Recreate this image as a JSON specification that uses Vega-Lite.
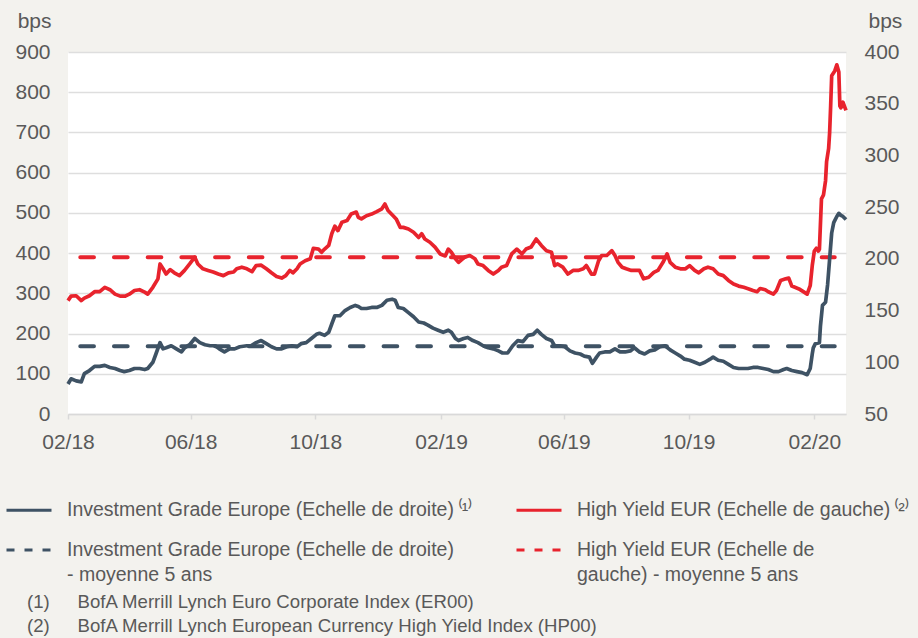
{
  "$schema": "https://vega.github.io/schema/vega-lite/v6.json",
  "width": 778,
  "height": 362,
  "autosize": "none",
  "padding": {"left": 68, "top": 52, "right": 72, "bottom": 224},
  "background": "#f3f2ee",
  "config": {
    "font": "Liberation Sans",
    "view": {"fill": "white", "stroke": null}
  },
  "title": {
    "text": ["(1)\u2003\u2002BofA Merrill Lynch Euro Corporate Index (ER00)", "(2)\u2003\u2002BofA Merrill Lynch European Currency High Yield Index (HP00)"],
    "orient": "bottom",
    "anchor": "start",
    "frame": "group",
    "dx": -41,
    "offset": 8,
    "font": "Liberation Sans",
    "fontSize": 18.6,
    "fontWeight": "normal",
    "color": "#595959",
    "lineHeight": 24
  },
  "datasets": {
    "hy": [
      {"date": "2018-02-01", "bps": 282}, {"date": "2018-02-04", "bps": 293}, {"date": "2018-02-09", "bps": 294}, {"date": "2018-02-14", "bps": 282},
      {"date": "2018-02-17", "bps": 288}, {"date": "2018-02-22", "bps": 294}, {"date": "2018-02-27", "bps": 304}, {"date": "2018-03-04", "bps": 304},
      {"date": "2018-03-09", "bps": 315}, {"date": "2018-03-14", "bps": 309}, {"date": "2018-03-19", "bps": 298}, {"date": "2018-03-24", "bps": 293},
      {"date": "2018-03-29", "bps": 293}, {"date": "2018-04-02", "bps": 298}, {"date": "2018-04-07", "bps": 307}, {"date": "2018-04-12", "bps": 309},
      {"date": "2018-04-17", "bps": 303}, {"date": "2018-04-20", "bps": 298}, {"date": "2018-04-25", "bps": 315}, {"date": "2018-04-30", "bps": 336},
      {"date": "2018-05-02", "bps": 373}, {"date": "2018-05-05", "bps": 361}, {"date": "2018-05-08", "bps": 348}, {"date": "2018-05-12", "bps": 359},
      {"date": "2018-05-16", "bps": 351}, {"date": "2018-05-21", "bps": 344}, {"date": "2018-05-26", "bps": 357}, {"date": "2018-05-31", "bps": 373},
      {"date": "2018-06-05", "bps": 390}, {"date": "2018-06-08", "bps": 373}, {"date": "2018-06-13", "bps": 361}, {"date": "2018-06-18", "bps": 357},
      {"date": "2018-06-23", "bps": 353}, {"date": "2018-06-28", "bps": 348}, {"date": "2018-07-03", "bps": 344}, {"date": "2018-07-08", "bps": 351},
      {"date": "2018-07-13", "bps": 353}, {"date": "2018-07-16", "bps": 361}, {"date": "2018-07-21", "bps": 365}, {"date": "2018-07-26", "bps": 361},
      {"date": "2018-07-31", "bps": 354}, {"date": "2018-08-04", "bps": 369}, {"date": "2018-08-09", "bps": 370}, {"date": "2018-08-14", "bps": 361},
      {"date": "2018-08-19", "bps": 351}, {"date": "2018-08-24", "bps": 342}, {"date": "2018-08-29", "bps": 338}, {"date": "2018-09-02", "bps": 344},
      {"date": "2018-09-06", "bps": 357}, {"date": "2018-09-09", "bps": 351}, {"date": "2018-09-13", "bps": 361}, {"date": "2018-09-16", "bps": 373},
      {"date": "2018-09-21", "bps": 381}, {"date": "2018-09-26", "bps": 386}, {"date": "2018-09-29", "bps": 412}, {"date": "2018-10-04", "bps": 410},
      {"date": "2018-10-07", "bps": 402}, {"date": "2018-10-10", "bps": 410}, {"date": "2018-10-14", "bps": 419}, {"date": "2018-10-17", "bps": 448},
      {"date": "2018-10-20", "bps": 467}, {"date": "2018-10-23", "bps": 456}, {"date": "2018-10-27", "bps": 477}, {"date": "2018-11-01", "bps": 481},
      {"date": "2018-11-05", "bps": 497}, {"date": "2018-11-10", "bps": 502}, {"date": "2018-11-12", "bps": 489}, {"date": "2018-11-15", "bps": 485},
      {"date": "2018-11-20", "bps": 493}, {"date": "2018-11-25", "bps": 497}, {"date": "2018-11-30", "bps": 503}, {"date": "2018-12-05", "bps": 510},
      {"date": "2018-12-08", "bps": 522}, {"date": "2018-12-11", "bps": 506}, {"date": "2018-12-16", "bps": 493}, {"date": "2018-12-19", "bps": 485},
      {"date": "2018-12-23", "bps": 464}, {"date": "2018-12-26", "bps": 464}, {"date": "2018-12-31", "bps": 460}, {"date": "2019-01-05", "bps": 452},
      {"date": "2019-01-10", "bps": 439}, {"date": "2019-01-13", "bps": 448}, {"date": "2019-01-16", "bps": 435}, {"date": "2019-01-21", "bps": 427},
      {"date": "2019-01-26", "bps": 415}, {"date": "2019-01-31", "bps": 398}, {"date": "2019-02-05", "bps": 393}, {"date": "2019-02-08", "bps": 410},
      {"date": "2019-02-11", "bps": 402}, {"date": "2019-02-15", "bps": 386}, {"date": "2019-02-18", "bps": 377}, {"date": "2019-02-24", "bps": 390},
      {"date": "2019-03-01", "bps": 394}, {"date": "2019-03-06", "bps": 386}, {"date": "2019-03-09", "bps": 373}, {"date": "2019-03-14", "bps": 369},
      {"date": "2019-03-19", "bps": 357}, {"date": "2019-03-24", "bps": 348}, {"date": "2019-03-29", "bps": 357}, {"date": "2019-04-01", "bps": 365},
      {"date": "2019-04-06", "bps": 369}, {"date": "2019-04-11", "bps": 398}, {"date": "2019-04-16", "bps": 410}, {"date": "2019-04-21", "bps": 398},
      {"date": "2019-04-25", "bps": 410}, {"date": "2019-04-30", "bps": 415}, {"date": "2019-05-05", "bps": 435}, {"date": "2019-05-10", "bps": 419},
      {"date": "2019-05-15", "bps": 406}, {"date": "2019-05-20", "bps": 402}, {"date": "2019-05-23", "bps": 369}, {"date": "2019-05-26", "bps": 373},
      {"date": "2019-05-31", "bps": 365}, {"date": "2019-06-05", "bps": 348}, {"date": "2019-06-10", "bps": 357}, {"date": "2019-06-15", "bps": 357},
      {"date": "2019-06-20", "bps": 361}, {"date": "2019-06-23", "bps": 369}, {"date": "2019-06-28", "bps": 348}, {"date": "2019-07-01", "bps": 348},
      {"date": "2019-07-05", "bps": 381}, {"date": "2019-07-08", "bps": 394}, {"date": "2019-07-13", "bps": 394}, {"date": "2019-07-18", "bps": 406},
      {"date": "2019-07-21", "bps": 394}, {"date": "2019-07-24", "bps": 377}, {"date": "2019-07-28", "bps": 365}, {"date": "2019-08-01", "bps": 361},
      {"date": "2019-08-06", "bps": 357}, {"date": "2019-08-11", "bps": 357}, {"date": "2019-08-14", "bps": 357}, {"date": "2019-08-18", "bps": 336},
      {"date": "2019-08-23", "bps": 340}, {"date": "2019-08-28", "bps": 352}, {"date": "2019-09-01", "bps": 357}, {"date": "2019-09-06", "bps": 377},
      {"date": "2019-09-10", "bps": 398}, {"date": "2019-09-13", "bps": 377}, {"date": "2019-09-18", "bps": 365}, {"date": "2019-09-23", "bps": 361},
      {"date": "2019-09-28", "bps": 361}, {"date": "2019-10-02", "bps": 369}, {"date": "2019-10-07", "bps": 357}, {"date": "2019-10-11", "bps": 351},
      {"date": "2019-10-16", "bps": 361}, {"date": "2019-10-20", "bps": 365}, {"date": "2019-10-25", "bps": 361}, {"date": "2019-10-30", "bps": 348},
      {"date": "2019-11-04", "bps": 344}, {"date": "2019-11-09", "bps": 332}, {"date": "2019-11-14", "bps": 323}, {"date": "2019-11-19", "bps": 318},
      {"date": "2019-11-24", "bps": 315}, {"date": "2019-11-29", "bps": 311}, {"date": "2019-12-03", "bps": 307}, {"date": "2019-12-07", "bps": 304},
      {"date": "2019-12-10", "bps": 312}, {"date": "2019-12-15", "bps": 309}, {"date": "2019-12-18", "bps": 304}, {"date": "2019-12-23", "bps": 298},
      {"date": "2019-12-26", "bps": 307}, {"date": "2019-12-30", "bps": 332}, {"date": "2020-01-04", "bps": 336}, {"date": "2020-01-07", "bps": 338},
      {"date": "2020-01-10", "bps": 318}, {"date": "2020-01-13", "bps": 315}, {"date": "2020-01-17", "bps": 311}, {"date": "2020-01-22", "bps": 303},
      {"date": "2020-01-25", "bps": 298}, {"date": "2020-01-28", "bps": 319}, {"date": "2020-01-30", "bps": 369}, {"date": "2020-02-01", "bps": 405},
      {"date": "2020-02-03", "bps": 412}, {"date": "2020-02-05", "bps": 405}, {"date": "2020-02-06", "bps": 410}, {"date": "2020-02-08", "bps": 535},
      {"date": "2020-02-10", "bps": 545}, {"date": "2020-02-12", "bps": 580}, {"date": "2020-02-13", "bps": 627}, {"date": "2020-02-15", "bps": 660},
      {"date": "2020-02-16", "bps": 700}, {"date": "2020-02-17", "bps": 766}, {"date": "2020-02-18", "bps": 841}, {"date": "2020-02-21", "bps": 853},
      {"date": "2020-02-23", "bps": 868}, {"date": "2020-02-25", "bps": 850}, {"date": "2020-02-26", "bps": 766}, {"date": "2020-02-27", "bps": 761},
      {"date": "2020-02-29", "bps": 775}, {"date": "2020-03-03", "bps": 755}
    ],
    "ig": [
      {"date": "2018-02-01", "bps": 79}, {"date": "2018-02-04", "bps": 84}, {"date": "2018-02-09", "bps": 82}, {"date": "2018-02-14", "bps": 81},
      {"date": "2018-02-17", "bps": 89}, {"date": "2018-02-22", "bps": 92}, {"date": "2018-02-27", "bps": 96}, {"date": "2018-03-04", "bps": 96},
      {"date": "2018-03-09", "bps": 97}, {"date": "2018-03-14", "bps": 95}, {"date": "2018-03-19", "bps": 94}, {"date": "2018-03-24", "bps": 92},
      {"date": "2018-03-28", "bps": 91}, {"date": "2018-04-02", "bps": 92}, {"date": "2018-04-07", "bps": 94}, {"date": "2018-04-12", "bps": 94},
      {"date": "2018-04-17", "bps": 93}, {"date": "2018-04-20", "bps": 94}, {"date": "2018-04-25", "bps": 100}, {"date": "2018-04-28", "bps": 108},
      {"date": "2018-05-02", "bps": 119}, {"date": "2018-05-05", "bps": 113}, {"date": "2018-05-08", "bps": 114}, {"date": "2018-05-13", "bps": 116},
      {"date": "2018-05-18", "bps": 113}, {"date": "2018-05-23", "bps": 110}, {"date": "2018-05-26", "bps": 114}, {"date": "2018-05-31", "bps": 117},
      {"date": "2018-06-05", "bps": 123}, {"date": "2018-06-10", "bps": 119}, {"date": "2018-06-15", "bps": 117}, {"date": "2018-06-20", "bps": 116},
      {"date": "2018-06-25", "bps": 116}, {"date": "2018-06-29", "bps": 113}, {"date": "2018-07-04", "bps": 110}, {"date": "2018-07-09", "bps": 113},
      {"date": "2018-07-14", "bps": 113}, {"date": "2018-07-19", "bps": 115}, {"date": "2018-07-26", "bps": 116}, {"date": "2018-07-30", "bps": 116},
      {"date": "2018-08-04", "bps": 119}, {"date": "2018-08-09", "bps": 121}, {"date": "2018-08-14", "bps": 118}, {"date": "2018-08-19", "bps": 115},
      {"date": "2018-08-24", "bps": 113}, {"date": "2018-08-29", "bps": 113}, {"date": "2018-09-03", "bps": 115}, {"date": "2018-09-08", "bps": 116},
      {"date": "2018-09-13", "bps": 115}, {"date": "2018-09-17", "bps": 118}, {"date": "2018-09-22", "bps": 119}, {"date": "2018-09-27", "bps": 123},
      {"date": "2018-10-02", "bps": 127}, {"date": "2018-10-05", "bps": 128}, {"date": "2018-10-10", "bps": 126}, {"date": "2018-10-14", "bps": 129},
      {"date": "2018-10-17", "bps": 137}, {"date": "2018-10-20", "bps": 145}, {"date": "2018-10-25", "bps": 145}, {"date": "2018-10-30", "bps": 150},
      {"date": "2018-11-04", "bps": 153}, {"date": "2018-11-09", "bps": 155}, {"date": "2018-11-12", "bps": 154}, {"date": "2018-11-15", "bps": 152},
      {"date": "2018-11-20", "bps": 152}, {"date": "2018-11-25", "bps": 153}, {"date": "2018-11-30", "bps": 153}, {"date": "2018-12-05", "bps": 155},
      {"date": "2018-12-10", "bps": 160}, {"date": "2018-12-15", "bps": 161}, {"date": "2018-12-18", "bps": 160}, {"date": "2018-12-21", "bps": 153},
      {"date": "2018-12-26", "bps": 152}, {"date": "2018-12-31", "bps": 148}, {"date": "2019-01-05", "bps": 144}, {"date": "2019-01-10", "bps": 139},
      {"date": "2019-01-15", "bps": 138}, {"date": "2019-01-19", "bps": 136}, {"date": "2019-01-24", "bps": 133}, {"date": "2019-01-29", "bps": 131},
      {"date": "2019-02-03", "bps": 129}, {"date": "2019-02-08", "bps": 131}, {"date": "2019-02-11", "bps": 129}, {"date": "2019-02-15", "bps": 123},
      {"date": "2019-02-18", "bps": 121}, {"date": "2019-02-23", "bps": 123}, {"date": "2019-02-27", "bps": 124}, {"date": "2019-03-04", "bps": 121},
      {"date": "2019-03-09", "bps": 119}, {"date": "2019-03-14", "bps": 116}, {"date": "2019-03-19", "bps": 114}, {"date": "2019-03-24", "bps": 113},
      {"date": "2019-03-29", "bps": 111}, {"date": "2019-04-02", "bps": 109}, {"date": "2019-04-07", "bps": 109}, {"date": "2019-04-12", "bps": 116},
      {"date": "2019-04-17", "bps": 121}, {"date": "2019-04-22", "bps": 120}, {"date": "2019-04-27", "bps": 126}, {"date": "2019-05-02", "bps": 127},
      {"date": "2019-05-06", "bps": 131}, {"date": "2019-05-10", "bps": 127}, {"date": "2019-05-15", "bps": 123}, {"date": "2019-05-20", "bps": 121},
      {"date": "2019-05-23", "bps": 116}, {"date": "2019-05-28", "bps": 116}, {"date": "2019-06-02", "bps": 115}, {"date": "2019-06-07", "bps": 111},
      {"date": "2019-06-12", "bps": 109}, {"date": "2019-06-17", "bps": 108}, {"date": "2019-06-21", "bps": 106}, {"date": "2019-06-26", "bps": 105},
      {"date": "2019-06-29", "bps": 99}, {"date": "2019-07-03", "bps": 105}, {"date": "2019-07-06", "bps": 109}, {"date": "2019-07-11", "bps": 110},
      {"date": "2019-07-16", "bps": 110}, {"date": "2019-07-21", "bps": 113}, {"date": "2019-07-26", "bps": 110}, {"date": "2019-07-31", "bps": 110},
      {"date": "2019-08-05", "bps": 111}, {"date": "2019-08-09", "bps": 114}, {"date": "2019-08-14", "bps": 110}, {"date": "2019-08-19", "bps": 108},
      {"date": "2019-08-24", "bps": 111}, {"date": "2019-08-29", "bps": 112}, {"date": "2019-09-03", "bps": 115}, {"date": "2019-09-08", "bps": 116},
      {"date": "2019-09-13", "bps": 112}, {"date": "2019-09-18", "bps": 109}, {"date": "2019-09-23", "bps": 106}, {"date": "2019-09-27", "bps": 103},
      {"date": "2019-10-02", "bps": 102}, {"date": "2019-10-07", "bps": 100}, {"date": "2019-10-12", "bps": 98}, {"date": "2019-10-17", "bps": 100},
      {"date": "2019-10-22", "bps": 103}, {"date": "2019-10-25", "bps": 105}, {"date": "2019-10-30", "bps": 102}, {"date": "2019-11-04", "bps": 101},
      {"date": "2019-11-09", "bps": 98}, {"date": "2019-11-14", "bps": 95}, {"date": "2019-11-19", "bps": 94}, {"date": "2019-11-24", "bps": 94},
      {"date": "2019-11-28", "bps": 94}, {"date": "2019-12-03", "bps": 95}, {"date": "2019-12-08", "bps": 95}, {"date": "2019-12-13", "bps": 94},
      {"date": "2019-12-18", "bps": 93}, {"date": "2019-12-23", "bps": 91}, {"date": "2019-12-28", "bps": 91}, {"date": "2020-01-02", "bps": 93},
      {"date": "2020-01-05", "bps": 94}, {"date": "2020-01-10", "bps": 92}, {"date": "2020-01-15", "bps": 91}, {"date": "2020-01-20", "bps": 90},
      {"date": "2020-01-25", "bps": 88}, {"date": "2020-01-28", "bps": 94}, {"date": "2020-01-30", "bps": 108}, {"date": "2020-01-31", "bps": 114},
      {"date": "2020-02-02", "bps": 118}, {"date": "2020-02-06", "bps": 119}, {"date": "2020-02-07", "bps": 135}, {"date": "2020-02-09", "bps": 155},
      {"date": "2020-02-12", "bps": 158}, {"date": "2020-02-14", "bps": 175}, {"date": "2020-02-16", "bps": 200}, {"date": "2020-02-18", "bps": 225},
      {"date": "2020-02-20", "bps": 235}, {"date": "2020-02-23", "bps": 241}, {"date": "2020-02-25", "bps": 244}, {"date": "2020-02-27", "bps": 242},
      {"date": "2020-02-29", "bps": 241}, {"date": "2020-03-03", "bps": 238}
    ],
    "hy5": [{"date": "2018-02-13", "bps": 390}, {"date": "2020-02-21", "bps": 390}],
    "ig5": [{"date": "2018-02-13", "bps": 115.5}, {"date": "2020-02-21", "bps": 115.5}]
  },
  "encoding": {
    "x": {
      "field": "date",
      "type": "temporal",
      "scale": {"type": "utc", "domain": [{"year": 2018, "month": 2, "date": 1, "utc": true}, {"year": 2020, "month": 3, "date": 3, "utc": true}]},
      "axis": {
        "title": null,
        "format": "%m/%y",
        "values": [
          {"year": 2018, "month": 2, "date": 1, "utc": true},
          {"year": 2018, "month": 6, "date": 1, "utc": true},
          {"year": 2018, "month": 10, "date": 1, "utc": true},
          {"year": 2019, "month": 2, "date": 1, "utc": true},
          {"year": 2019, "month": 6, "date": 1, "utc": true},
          {"year": 2019, "month": 10, "date": 1, "utc": true},
          {"year": 2020, "month": 2, "date": 1, "utc": true}
        ],
        "grid": false,
        "domain": true,
        "domainColor": "#d9d9d9",
        "domainWidth": 1.5,
        "ticks": true,
        "tickColor": "#d9d9d9",
        "tickSize": 5,
        "tickWidth": 1.5,
        "labelFont": "Liberation Sans",
        "labelFontSize": 21,
        "labelColor": "#595959",
        "labelPadding": 12,
        "labelFlush": false,
        "labelOverlap": false,
        "labelBound": false
      }
    }
  },
  "layer": [
    {
      "encoding": {
        "y": {
          "field": "bps",
          "type": "quantitative",
          "scale": {"domain": [0, 900], "nice": false, "zero": false},
          "axis": {
            "orient": "left",
            "values": [0, 100, 200, 300, 400, 500, 600, 700, 800, 900],
            "format": "d",
            "domain": false,
            "ticks": false,
            "grid": true,
            "gridColor": "#dedede",
            "gridWidth": 1.3,
            "labelFont": "Liberation Sans",
            "labelFontSize": 21,
            "labelColor": "#595959",
            "labelPadding": 18,
            "title": "bps",
            "titleAngle": 0,
            "titleAlign": "right",
            "titleBaseline": "alphabetic",
            "titleX": -17,
            "titleY": -25,
            "titleFont": "Liberation Sans",
            "titleFontSize": 21,
            "titleFontWeight": "normal",
            "titleColor": "#595959"
          }
        }
      },
      "layer": [
        {
          "data": {"name": "hy5"},
          "mark": {"type": "line", "strokeWidth": 4, "strokeDash": [13.7, 20], "strokeCap": "round"},
          "encoding": {
            "color": {
              "datum": "High Yield EUR (Echelle de gauche) - moyenne 5 ans",
              "type": "nominal",
              "scale": {
                "domain": ["Investment Grade Europe (Echelle de droite)\u2009\u207d\u00b9\u207e", "Investment Grade Europe (Echelle de droite) - moyenne 5 ans", "High Yield EUR (Echelle de gauche)\u2009\u207d\u00b2\u207e", "High Yield EUR (Echelle de gauche) - moyenne 5 ans"],
                "range": ["#3e5264", "#3e5264", "#e8232d", "#e8232d"]
              },
              "legend": {
                "title": null,
                "orient": "none",
                "legendX": -63,
                "legendY": 434,
                "columns": 2,
                "padding": 0,
                "columnPadding": 37,
                "rowPadding": 6,
                "symbolType": "stroke",
                "symbolSize": 2025,
                "symbolStrokeWidth": 3,
                "labelFont": "Liberation Sans",
                "labelFontSize": 19.5,
                "labelColor": "#595959",
                "labelLimit": 600,
                "labelOffset": 14,
                "labelExpr": "datum.label == 'Investment Grade Europe (Echelle de droite) - moyenne 5 ans' ? ['Investment Grade Europe (Echelle de droite)', '- moyenne 5 ans'] : datum.label == 'High Yield EUR (Echelle de gauche) - moyenne 5 ans' ? ['High Yield EUR (Echelle de', 'gauche) - moyenne 5 ans'] : datum.label",
                "encode": {
                  "symbols": {"update": {"strokeDash": {"signal": "indexof(datum.value, 'moyenne') >= 0 ? [8, 10] : [1, 0]"}}},
                  "labels": {"update": {"lineHeight": {"value": 25}}}
                }
              }
            }
          }
        },
        {
          "data": {"name": "hy"},
          "mark": {"type": "line", "strokeWidth": 3.7, "strokeJoin": "round"},
          "encoding": {
            "color": {"datum": "High Yield EUR (Echelle de gauche)\u2009\u207d\u00b2\u207e", "type": "nominal"}
          }
        }
      ]
    },
    {
      "encoding": {
        "y": {
          "field": "bps",
          "type": "quantitative",
          "scale": {"domain": [50, 400], "nice": false, "zero": false},
          "axis": {
            "orient": "right",
            "values": [50, 100, 150, 200, 250, 300, 350, 400],
            "format": "d",
            "domain": false,
            "ticks": false,
            "grid": false,
            "labelFont": "Liberation Sans",
            "labelFontSize": 21,
            "labelColor": "#595959",
            "labelPadding": 18,
            "title": "bps",
            "titleAngle": 0,
            "titleAlign": "left",
            "titleBaseline": "alphabetic",
            "titleX": 22,
            "titleY": -25,
            "titleFont": "Liberation Sans",
            "titleFontSize": 21,
            "titleFontWeight": "normal",
            "titleColor": "#595959"
          }
        }
      },
      "layer": [
        {
          "data": {"name": "ig5"},
          "mark": {"type": "line", "strokeWidth": 4, "strokeDash": [13.7, 20], "strokeCap": "round"},
          "encoding": {
            "color": {"datum": "Investment Grade Europe (Echelle de droite) - moyenne 5 ans", "type": "nominal"}
          }
        },
        {
          "data": {"name": "ig"},
          "mark": {"type": "line", "strokeWidth": 3.7, "strokeJoin": "round"},
          "encoding": {
            "color": {"datum": "Investment Grade Europe (Echelle de droite)\u2009\u207d\u00b9\u207e", "type": "nominal"}
          }
        }
      ]
    }
  ],
  "resolve": {"scale": {"y": "independent"}}
}
